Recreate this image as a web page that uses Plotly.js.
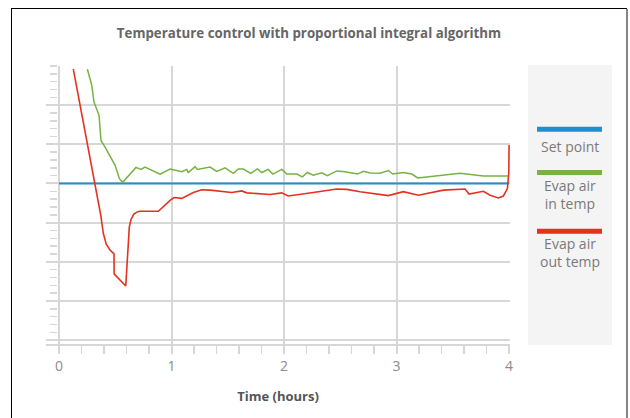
<!DOCTYPE html>
<html>
<head>
<meta charset="utf-8">
<script src="https://cdn.plot.ly/plotly-3.0.1.min.js"></script>
<style>
  html, body { margin: 0; padding: 0; background: #fff; }
  #chart { position: absolute; left: 0; top: 0; width: 630px; height: 418px; }
  #frame { position: absolute; left: 11px; top: 8px; width: 614px; height: 420px;
           border-left: 1.5px solid #000; border-top: 1.5px solid #000; border-right: 1px solid #111;
           pointer-events: none; }
  #shade { position: absolute; left: 626px; top: 9px; width: 2px; height: 420px; background: #858585; pointer-events: none; }
</style>
</head>
<body>
<div id="chart"></div>
<div id="frame"></div>
<div id="shade"></div>
<script>
// Time in hours; temperature relative to set point (grid unit = 1)
const setTime = [0, 4];
const setTemp = [0, 0];

const inTime = [0.252, 0.291, 0.311, 0.356, 0.373, 0.409, 0.498, 0.536, 0.566, 0.602, 0.684, 0.729, 0.764, 0.898, 0.987,
  1.091, 1.135, 1.149, 1.209, 1.229, 1.342, 1.402, 1.476, 1.549, 1.594, 1.638, 1.704, 1.763, 1.802, 1.860, 1.900, 1.980,
  2.024, 2.113, 2.163, 2.207, 2.260, 2.335, 2.385, 2.468, 2.542, 2.652, 2.705, 2.764, 2.853, 2.927, 2.966,
  3.060, 3.135, 3.188, 3.357, 3.564, 3.772, 4.0];
const inTemp = [2.92, 2.51, 2.08, 1.74, 1.10, 0.93, 0.47, 0.13, 0.03, 0.14, 0.41, 0.36, 0.42, 0.24, 0.37,
  0.30, 0.36, 0.28, 0.43, 0.36, 0.42, 0.31, 0.40, 0.26, 0.37, 0.37, 0.26, 0.37, 0.28, 0.36, 0.24, 0.36,
  0.24, 0.24, 0.17, 0.28, 0.21, 0.27, 0.20, 0.32, 0.30, 0.24, 0.31, 0.27, 0.26, 0.33, 0.24,
  0.28, 0.24, 0.14, 0.19, 0.26, 0.19, 0.19];

const outTime = [0.127, 0.371, 0.394, 0.420, 0.453, 0.489, 0.490, 0.593, 0.625, 0.640, 0.665, 0.700, 0.720, 0.883, 0.987,
  1.022, 1.091, 1.194, 1.268, 1.342, 1.535, 1.624, 1.668, 1.876, 1.980, 2.036, 2.260, 2.468, 2.557, 2.676, 2.927,
  3.060, 3.194, 3.416, 3.609, 3.644, 3.772, 3.831, 3.905, 3.949, 3.985, 3.997, 4.0];
const outTemp = [2.92, -0.81, -1.28, -1.55, -1.70, -1.80, -2.31, -2.62, -1.11, -0.92, -0.78, -0.72, -0.71, -0.71, -0.43,
  -0.36, -0.38, -0.23, -0.16, -0.17, -0.23, -0.19, -0.24, -0.28, -0.24, -0.32, -0.23, -0.14, -0.15, -0.21, -0.31,
  -0.21, -0.30, -0.17, -0.14, -0.27, -0.20, -0.30, -0.37, -0.32, -0.13, 0.26, 0.98];

const seriesNames = ['Set point', 'Evap air<br>in temp', 'Evap air<br>out temp'];
const seriesColors = ['#1f8fce', '#77b244', '#e5321f'];
const xTickVals = [0, 1, 2, 3, 4];
const xTickText = ['0', '1', '2', '3', '4'];

const FONT = 'Open Sans, sans-serif';
const grid = '#d7d7d7';

const traces = [
  {x: setTime, y: setTemp, mode: 'lines', line: {color: seriesColors[0], width: 2}, hoverinfo: 'skip'},
  {x: inTime, y: inTemp, mode: 'lines', line: {color: seriesColors[1], width: 1.5}},
  {x: outTime, y: outTemp, mode: 'lines', line: {color: seriesColors[2], width: 1.6}},
  {x: setTime, y: setTemp, yaxis: 'y2', mode: 'lines', line: {width: 0}, opacity: 0, hoverinfo: 'skip'}
];

// plot area pixel box
const L = 46, R = 510, T = 66, B = 344;
const W = R - L, H = B - T;
const px = v => (v - L) / W;
const py = v => (B - v) / H;

const shapes = [
  {type: 'rect', xref: 'paper', yref: 'paper', x0: px(528), x1: px(612), y0: py(345), y1: py(65),
   fillcolor: '#f4f4f4', line: {width: 0}, layer: 'below'}
];
const barY = [129.3, 172.5, 231.3];
const textY = [[147], [186.7, 202.7], [245, 261]];
const annotations = [];
seriesNames.forEach((n, i) => {
  shapes.push({type: 'rect', xref: 'paper', yref: 'paper', x0: px(537), x1: px(602),
    y0: py(barY[i] + 2.5), y1: py(barY[i] - 2.5), fillcolor: seriesColors[i], line: {width: 0}});
  const ty = (textY[i][0] + textY[i][textY[i].length - 1]) / 2;
  annotations.push({xref: 'paper', yref: 'paper', x: px(569.5), y: py(ty - 0.5), text: n, showarrow: false,
    xanchor: 'center', yanchor: 'middle', align: 'center',
    font: {family: FONT, size: 14, color: '#7a7a7a'}});
});

const layout = {
  width: 630, height: 418,
  margin: {l: L, r: 630 - R, t: T, b: 418 - B, pad: 0},
  paper_bgcolor: '#fff', plot_bgcolor: '#fff',
  showlegend: false,
  title: {text: '<b>Temperature control with proportional integral algorithm</b>',
    x: 309 / 630, xref: 'container', xanchor: 'center', y: 1 - 33 / 418, yref: 'container', yanchor: 'middle',
    font: {family: FONT, size: 13.3, color: '#666'}},
  xaxis: {range: [-0.1156, 4.008], tickvals: xTickVals, ticktext: xTickText,
    showgrid: true, gridcolor: grid, gridwidth: 2, zeroline: false,
    showline: true, linecolor: grid, linewidth: 2,
    ticks: 'outside', ticklen: 8, tickcolor: grid, tickwidth: 2,
    minor: {dtick: 0.2, tick0: 0, ticks: 'outside', ticklen: 8, tickcolor: grid, tickwidth: 1.5, showgrid: false},
    tickfont: {family: FONT, size: 14, color: '#8c8c8c'},
    title: {text: '<b>Time (hours)</b>', standoff: 18, font: {family: FONT, size: 13, color: '#555'}}},
  yaxis: {range: [-4.1, 3], dtick: 1, tick0: 0, showgrid: true, gridcolor: grid, gridwidth: 2,
    zeroline: false, showline: false, showticklabels: false, ticks: ''},
  yaxis2: {overlaying: 'y', matches: 'y', anchor: 'free', position: px(57), side: 'left',
    showgrid: false, zeroline: false, showline: false, showticklabels: false,
    tickmode: 'linear', tick0: 0, dtick: 0.2, ticks: 'outside', ticklen: 7, tickcolor: grid, tickwidth: 1.5},
  shapes: shapes,
  annotations: annotations
};

Plotly.newPlot('chart', traces, layout, {displayModeBar: false, staticPlot: true});
</script>
</body>
</html>
